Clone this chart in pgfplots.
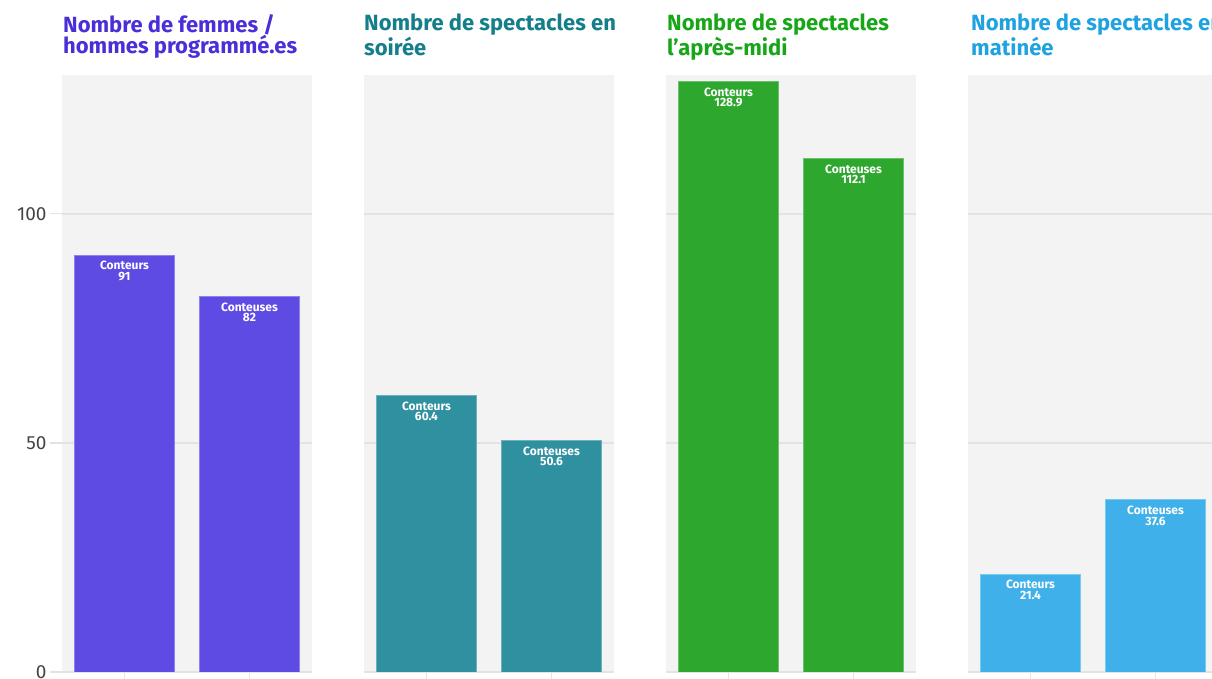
\documentclass[border=0pt]{standalone}
\usepackage{pgfplots}
\pgfplotsset{compat=1.18}
\usepackage{fontspec}
\setmainfont{Fira Sans}

\definecolor{bgc}{HTML}{F3F3F3}
\definecolor{gridc}{HTML}{E3E3E3}
\definecolor{tickc}{HTML}{444444}
\definecolor{barA}{HTML}{5E4BE4}
\definecolor{titA}{HTML}{4B2ED8}
\definecolor{barB}{HTML}{2F909F}
\definecolor{titB}{HTML}{147E8A}
\definecolor{barC}{HTML}{2EA72E}
\definecolor{titC}{HTML}{18A619}
\definecolor{barD}{HTML}{3FB0E9}
\definecolor{titD}{HTML}{1FA2E0}

\pgfplotsset{
  panel/.style={
    scale only axis, width=250pt, height=597pt, anchor=south west,
    xmin=-0.5, xmax=1.5, ymin=0, ymax=130.3,
    xtick={0,1}, xticklabels={}, ytick={0,50,100},
    xtick pos=bottom, ytick pos=left,
    ymajorgrids, grid style={gridc, line width=1.6pt},
    axis line style={draw=none},
    axis background/.style={fill=bgc},
    tick align=outside, major tick length=12pt,
    tick style={gridc, line width=1.2pt},
    /pgf/number format/assume math mode=true,
    yticklabel style={font=\fontsize{19}{19}\selectfont, text=tickc},
  },
  nolab/.style={yticklabels={}, ytick style={draw=none}},
  bar/.style 2 args={ybar, bar width=0.8, bar shift=0pt,
    fill=#1, draw=#1!70!white, line width=0.8pt,
    nodes near coords={#2\\\pgfmathprintnumber[fixed,precision=1]{\pgfplotspointmeta}},
    every node near coord/.append style={anchor=north, align=center,
      text=white, font=\fontsize{12}{10.5}\selectfont\bfseries,
      inner sep=0pt, yshift=-6pt}},
}

\begin{document}
\begin{tikzpicture}
\tikzset{ttl/.style={anchor=north west, inner sep=0pt, align=left,
  font=\fontsize{22}{21}\selectfont\bfseries}}

\node[ttl, text=titA] at (63pt,665pt) {Nombre de femmes /\\hommes programmé.es};
\node[ttl, text=titB] at (364pt,665pt) {Nombre de spectacles en\\soirée};
\node[ttl, text=titC] at (667pt,665pt) {Nombre de spectacles\\l'après-midi};
\node[ttl, text=titD] at (971pt,665pt) {Nombre de spectacles en\\matinée};

\begin{axis}[panel, at={(62pt,7pt)}]
\addplot[bar={barA}{Conteurs}] coordinates {(0,91)};
\addplot[bar={barA}{Conteuses}] coordinates {(1,82)};
\end{axis}

\begin{axis}[panel, nolab, at={(364pt,7pt)}]
\addplot[bar={barB}{Conteurs}] coordinates {(0,60.4)};
\addplot[bar={barB}{Conteuses}] coordinates {(1,50.6)};
\end{axis}

\begin{axis}[panel, nolab, at={(666pt,7pt)}]
\addplot[bar={barC}{Conteurs}] coordinates {(0,128.9)};
\addplot[bar={barC}{Conteuses}] coordinates {(1,112.1)};
\end{axis}

\begin{axis}[panel, nolab, at={(968pt,7pt)}]
\addplot[bar={barD}{Conteurs}] coordinates {(0,21.4)};
\addplot[bar={barD}{Conteuses}] coordinates {(1,37.6)};
\end{axis}

\pgfresetboundingbox
\path[use as bounding box] (0,0) rectangle (1212pt,679pt);
\end{tikzpicture}
\end{document}
